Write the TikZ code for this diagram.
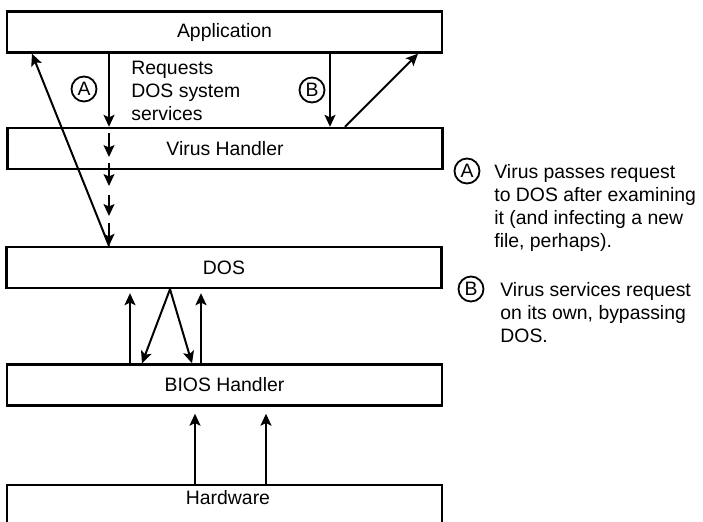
\documentclass[tikz,border=0pt]{standalone}
\usepackage{fontspec}
\setmainfont{Liberation Sans}
\usetikzlibrary{arrows.meta,calc}
\begin{document}
\begin{tikzpicture}[x=0.5pt,y=-0.5pt,
  font=\fontsize{9.7pt}{11.5pt}\selectfont,
  layer/.style={draw,line width=1.2pt,minimum width=217.5pt,minimum height=20.5pt,inner sep=0pt},
  flow/.style={line width=1pt,-{Stealth[length=6pt,width=5.5pt,inset=1.3pt]}},
  tag/.style={circle,draw,line width=0.9pt,minimum size=12.5pt,inner sep=0pt},
  note/.style={align=left,anchor=north west,inner sep=0pt}]

\useasboundingbox (0,0) rectangle (703,521);

% layers of the system
\node[layer] (app)  at (224.5,32)    {Application};
\node[layer] (vh)   at (225,148.5)   {Virus Handler};
\node[layer] (dos)  at (224,267.5)   {DOS};
\node[layer] (bios) at (224.5,385)   {BIOS Handler};
\node[layer,minimum height=40pt,anchor=north] (hw) at (224.5,484) {};
\node (hwtext) at (228,498) {Hardware};

% path A: request passes through the virus handler to DOS
\draw[flow] (109,0 |- app.south) -- (109,0 |- vh.north);
\coordinate (c1) at (109,133);
\coordinate (c2) at (109,157);
\coordinate (c3) at (109,163);
\coordinate (c4) at (109,186);
\coordinate (c5) at (109,195);
\coordinate (c6) at (109,216);
\coordinate (c7) at (109,223);
\draw[flow] (c1) -- (c2);
\draw[flow] (c3) -- (c4);
\draw[flow] (c5) -- (c6);
\draw[flow] (c7) -- (109,0 |- dos.north);
\draw[flow] (109,0 |- dos.north) -- (32,0 |- app.south);
\node[tag] (ta) at (84,89) {A};
\node[note] (req) at (131,61) {Requests\\DOS system\\services};

% path B: the virus answers the request itself
\draw[flow] (330,0 |- app.south) -- (330,0 |- vh.north);
\draw[flow] (345,0 |- vh.north) -- (418,0 |- app.south);
\node[tag] (tb) at (312,90) {B};

% DOS <-> BIOS
\draw[flow,shorten >=2pt] (130,0 |- bios.north) -- (130,0 |- dos.south);
\draw[flow] (170,0 |- dos.south) -- (142,0 |- bios.north);
\draw[flow] (170,0 |- dos.south) -- (192,0 |- bios.north);
\draw[flow,shorten >=2pt] (201,0 |- bios.north) -- (201,0 |- dos.south);

% hardware -> BIOS
\draw[flow,shorten >=3.5pt] (195,0 |- hw.north) -- (195,0 |- bios.south);
\draw[flow,shorten >=3.5pt] (266,0 |- hw.north) -- (266,0 |- bios.south);

% legend
\node[tag] (la) at (467,171) {A};
\node[note] (lat) at (494,164) {Virus passes request\\to DOS after examining\\it (and infecting a new\\file, perhaps).};
\node[tag] (lb) at (471,289) {B};
\node[note] (lbt) at (500,282) {Virus services request\\on its own, bypassing\\DOS.};
\end{tikzpicture}
\end{document}
